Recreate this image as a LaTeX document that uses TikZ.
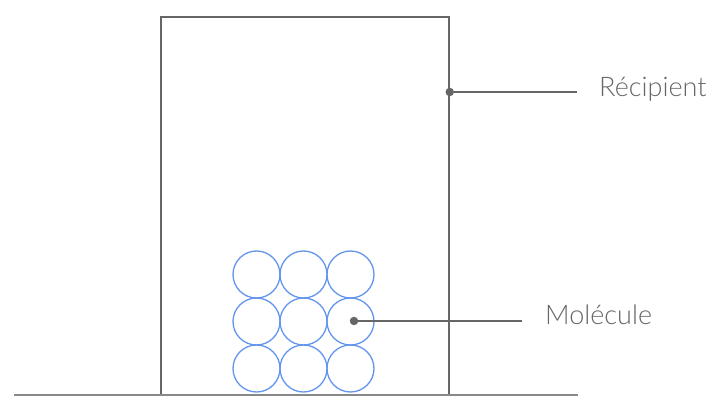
\documentclass[tikz,border=0pt]{standalone}
\usepackage{fontspec}
\setmainfont{Lato Light}
\usepackage{xcolor}
\usetikzlibrary{positioning}
\definecolor{molblue}{RGB}{100,149,237}
\definecolor{linegray}{RGB}{102,102,102}
\definecolor{groundgray}{RGB}{136,136,136}

\begin{document}
\begin{tikzpicture}[x=1pt,y=-1pt,
   mol/.style={draw=molblue, circle, line width=1.3pt,
               minimum size=47pt, inner sep=0pt},
   lead/.style={draw=linegray, line width=2pt},
   pin/.style={circle, fill=linegray, inner sep=0pt, minimum size=8.5pt},
   lbl/.style={text=linegray, font=\fontsize{27}{32}\selectfont,
               anchor=base west, inner sep=0pt}]
  \useasboundingbox (0,0) rectangle (724,417);
  \node[draw=linegray, line width=1.5pt, minimum width=288pt,
        minimum height=378pt, inner sep=0pt] (recipient) at (305,206) {};
  \draw[groundgray, line width=2pt] (14,395) coordinate (g1) -- (578,395) coordinate (g2);
  \foreach \c [count=\i] in {256.5,303.5,350.5}
    \foreach \r [count=\j] in {274.5,321.5,368.5}
      \node[mol] (m\j\i) at (\c,\r) {};
  % leaders
  \node[pin] (pr) at (recipient.east |- 0,92) {};
  \coordinate (er) at (577,92);
  \draw[lead] (pr) -- (er);
  \node[lbl] (lr) at (599,97) {Récipient};
  \node[pin] (pm) at (354,321) {};
  \coordinate (em) at (522,321);
  \draw[lead] (pm) -- (em);
  \node[lbl] (lm) at (545,324) {Molécule};
\end{tikzpicture}
\end{document}
